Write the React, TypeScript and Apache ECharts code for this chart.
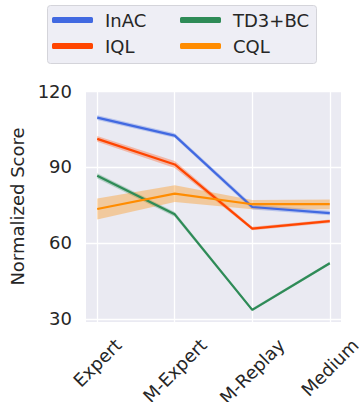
import React, { useEffect, useRef } from "react";
import * as echarts from "echarts";

// Offline RL benchmark: normalized score per dataset, with confidence bands
const categories = ["Expert", "M-Expert", "M-Replay", "Medium"];
const xPos = [0, 1, 2, 3];
const yTicks = [30, 60, 90, 120];

const inacMean = [109.5, 102.4, 74.2, 71.8];
const inacLow = [108.6, 101.5, 73.2, 70.9];
const inacHigh = [110.4, 103.3, 75.2, 72.7];

const iqlMean = [101.1, 91.0, 65.7, 68.6];
const iqlLow = [100.0, 89.6, 65.0, 67.9];
const iqlHigh = [102.2, 92.4, 66.4, 69.3];

const td3Mean = [86.5, 71.3, 33.6, 52.0];
const td3Low = [85.5, 70.4, 33.0, 51.4];
const td3High = [87.5, 72.2, 34.2, 52.6];

const cqlMean = [73.4, 79.5, 75.3, 75.3];
const cqlLow = [69.3, 76.2, 73.3, 73.3];
const cqlHigh = [77.6, 82.8, 77.0, 77.2];

const names = ["InAC", "IQL", "TD3+BC", "CQL"];
const colors = ["#4169E1", "#FF4500", "#2E8B57", "#FF8C00"];
const bandAlpha = [0.3, 0.3, 0.3, 0.35];

const means = [inacMean, iqlMean, td3Mean, cqlMean];
const lows = [inacLow, iqlLow, td3Low, cqlLow];
const highs = [inacHigh, iqlHigh, td3High, cqlHigh];

const FONT = "DejaVu Sans";
const TEXT = "#262626";
const FS = 18;

function rgba(hex: string, a: number) {
  const n = parseInt(hex.slice(1), 16);
  return `rgba(${(n >> 16) & 255},${(n >> 8) & 255},${n & 255},${a})`;
}

function pairs(ys: number[]) {
  return ys.map((y, i) => [xPos[i], y]);
}

// Filled band between the lower and upper bounds, drawn as one polygon
function bandSeries(low: number[], high: number[], color: string, alpha: number) {
  return {
    type: "custom",
    silent: true,
    z: 1,
    data: [[0]],
    encode: { x: 0, y: 0 },
    renderItem: (_params: any, api: any) => {
      const upper = xPos.map((x, i) => api.coord([x, high[i]]));
      const lower = xPos.map((x, i) => api.coord([x, low[i]])).reverse();
      return {
        type: "polygon",
        shape: { points: upper.concat(lower) },
        style: { fill: rgba(color, alpha), stroke: "none" },
      };
    },
  };
}

function textWidth(s: string) {
  const ctx = document.createElement("canvas").getContext("2d");
  if (!ctx) return s.length * FS * 0.6;
  ctx.font = `${FS}px "${FONT}"`;
  return ctx.measureText(s).width;
}

export default function App() {
  const ref = useRef<HTMLDivElement>(null);

  useEffect(() => {
    if (!ref.current) return;
    const chart = echarts.init(ref.current, undefined, { renderer: "svg" });

    const series: any[] = [];
    names.forEach((_n, i) => {
      series.push(bandSeries(lows[i], highs[i], colors[i], bandAlpha[i]));
    });
    names.forEach((n, i) => {
      series.push({
        type: "line",
        name: n,
        data: pairs(means[i]),
        symbol: "none",
        lineStyle: { color: colors[i], width: 2.2 },
        itemStyle: { color: colors[i] },
        z: 3,
      });
    });

    const legendCommon = {
      orient: "vertical",
      top: 11,
      padding: 0,
      icon: "roundRect",
      itemWidth: 41,
      itemHeight: 6,
      itemGap: 8,
      selectedMode: false,
      textStyle: { fontSize: FS, color: TEXT, fontFamily: FONT, padding: [0, 0, 0, 7] },
    };

    chart.setOption({
      animation: false,
      textStyle: { fontFamily: FONT },
      grid: {
        left: 85,
        right: 18,
        top: 91,
        bottom: 80,
        show: true,
        backgroundColor: "#EAEAF2",
        borderWidth: 0,
      },
      legend: [
        { ...legendCommon, left: 52, data: ["InAC", "IQL"] },
        { ...legendCommon, left: 180, data: ["TD3+BC", "CQL"] },
      ],
      xAxis: {
        type: "value",
        min: -0.145,
        max: 3.145,
        axisLine: { show: false },
        axisTick: { show: false, customValues: xPos },
        splitLine: { show: true, lineStyle: { color: "#FFFFFF", width: 1.3 } },
        axisLabel: { show: false, customValues: xPos },
      },
      yAxis: {
        type: "value",
        min: 28.8,
        max: 120,
        name: "Normalized Score",
        nameLocation: "middle",
        nameGap: 60,
        nameTextStyle: { fontSize: FS, color: TEXT, fontFamily: FONT },
        axisLine: { show: false },
        axisTick: { show: false, customValues: yTicks },
        splitLine: { show: true, lineStyle: { color: "#FFFFFF", width: 1.3 } },
        axisLabel: {
          customValues: yTicks,
          fontSize: FS,
          color: TEXT,
          fontFamily: FONT,
          margin: 14,
        },
      },
      series,
    });

    // Category labels rotated 45°, centred under each tick, tops aligned below the axis
    const axisBottom = chart.convertToPixel({ gridIndex: 0 }, [0, 28.8])[1];
    const s45 = Math.SQRT1_2;
    const labels = categories.map((c, i) => {
      const tickX = chart.convertToPixel({ gridIndex: 0 }, [xPos[i], 28.8])[0];
      const half = ((textWidth(c) + 14) * s45) / 2;
      return {
        type: "text",
        x: tickX,
        y: axisBottom + 15 + half,
        rotation: Math.PI / 4,
        style: {
          text: c,
          fontSize: FS,
          fontFamily: FONT,
          fill: TEXT,
          align: "center",
          verticalAlign: "middle",
        },
      };
    });

    chart.setOption({
      graphic: [
        {
          type: "rect",
          shape: { x: 47.5, y: 5.5, width: 269, height: 58, r: 3 },
          style: { fill: "rgba(234,234,242,0.8)", stroke: "#D4D4DA", lineWidth: 1 },
          z: 0,
        },
        ...labels,
      ],
    });

    return () => chart.dispose();
  }, []);

  return <div ref={ref} style={{ width: 359, height: 402, position: "absolute", left: 0, top: 0 }} />;
}
